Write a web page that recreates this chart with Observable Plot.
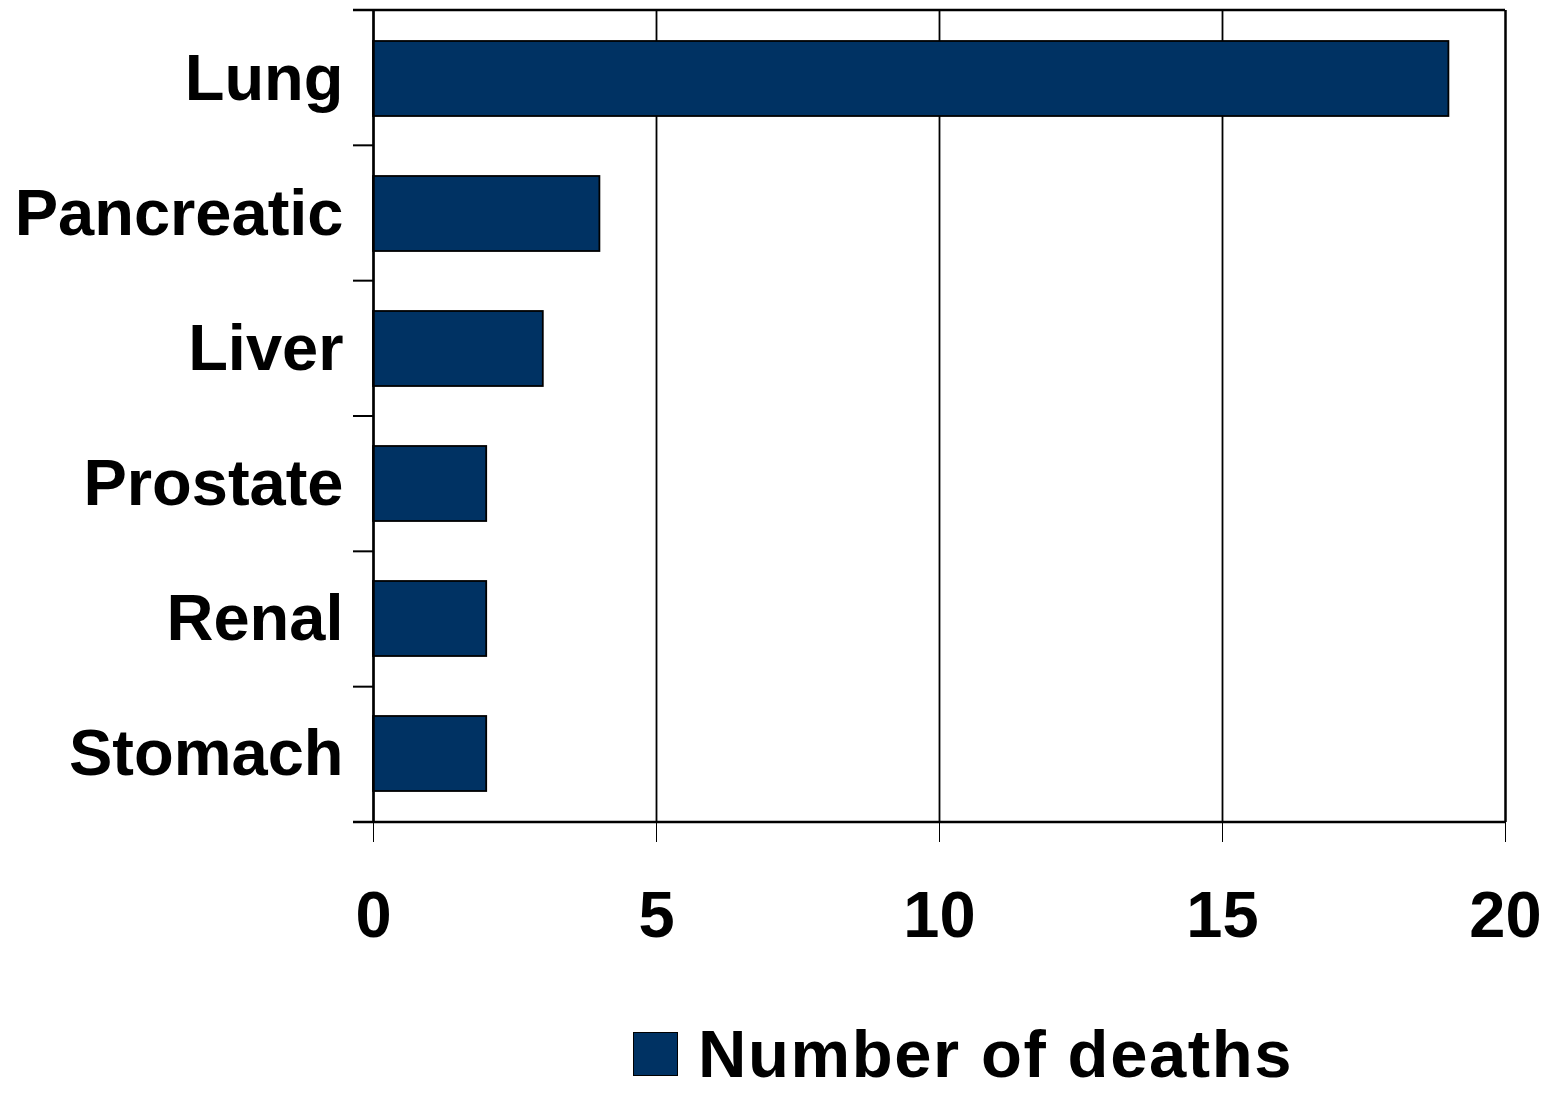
<!DOCTYPE html>
<html>
<head>
<meta charset="utf-8">
<script src="https://cdn.jsdelivr.net/npm/d3@7"></script>
<script src="https://cdn.jsdelivr.net/npm/@observablehq/plot@0.6"></script>
<style>
  html, body { margin: 0; padding: 0; background: #fff; }
  body { min-height: 1093px; }
  #chart { width: 1546px; height: 1000px; }
  #chart svg { display: block; }
  .legend { display: flex; align-items: center; height: 44px; line-height: 44px; margin-left: 633px; margin-top: 32px;
    font-family: "Liberation Sans", Arial, sans-serif; font-weight: bold; font-size: 67px; letter-spacing: 1.6px; color: #000; }
  .legend .sw { box-sizing: border-box; width: 45px; height: 44px; background: #003263; border: 1.5px solid #000; margin-right: 20px; flex: none; }
  .legend span { white-space: nowrap; }
</style>
</head>
<body>
<div id="chart"></div>
<script>
const categories = ["Lung", "Pancreatic", "Liver", "Prostate", "Renal", "Stomach"];
const deaths = [19, 4, 3, 2, 2, 2];
const xTicks = [0, 5, 10, 15, 20];
const seriesName = "Number of deaths";
const barColor = "#003263";

const data = categories.map((c, i) => ({cancer: c, deaths: deaths[i]}));

const plot = Plot.plot({
  width: 1546,
  height: 1000,
  marginLeft: 373,
  marginRight: 41,
  marginTop: 10,
  marginBottom: 178,
  style: {fontFamily: "'Liberation Sans', Arial, sans-serif", fontSize: "65px", fontWeight: "bold", color: "#000", background: "#fff"},
  x: {domain: [0, 20], ticks: xTicks, tickSize: 20, tickPadding: 48, label: null},
  y: {domain: categories, padding: 0, tickSize: 0, tickPadding: 30, label: null},
  marks: [
    Plot.gridX(xTicks, {stroke: "#000", strokeOpacity: 1, strokeWidth: 1.8}),
    Plot.barX(data, {x: "deaths", y: "cancer", fill: barColor, stroke: "#000", strokeWidth: 1.8, insetTop: 30, insetBottom: 30}),
    Plot.ruleX([0], {stroke: "#000", strokeWidth: 2.5}),
    Plot.ruleX([20], {stroke: "#000", strokeWidth: 2.2})
  ]
});
document.getElementById("chart").appendChild(plot);

// category boundary ticks, top frame line and bottom axis line from the library's scales
const ys = plot.scale("y");
const xs = plot.scale("x");
const yScale = d3.scaleBand(ys.domain, ys.range).paddingInner(0).paddingOuter(0);
const bounds = categories.map(c => yScale(c)).concat([yScale(categories[categories.length - 1]) + yScale.bandwidth()]);
const x0 = xs.apply(0), x20 = xs.apply(20);
const svg = d3.select(plot);
const g = svg.append("g").attr("stroke", "#000");
bounds.forEach((b, i) => {
  const isEdge = i === 0 || i === bounds.length - 1;
  g.append("line")
    .attr("x1", x0 - 20).attr("x2", isEdge ? x20 : x0)
    .attr("y1", b).attr("y2", b)
    .attr("stroke-width", isEdge ? 2.5 : 2);
});

const legend = document.createElement("div");
legend.className = "legend";
legend.innerHTML = `<div class="sw"></div><span>${seriesName}</span>`;
document.body.appendChild(legend);
</script>
</body>
</html>
